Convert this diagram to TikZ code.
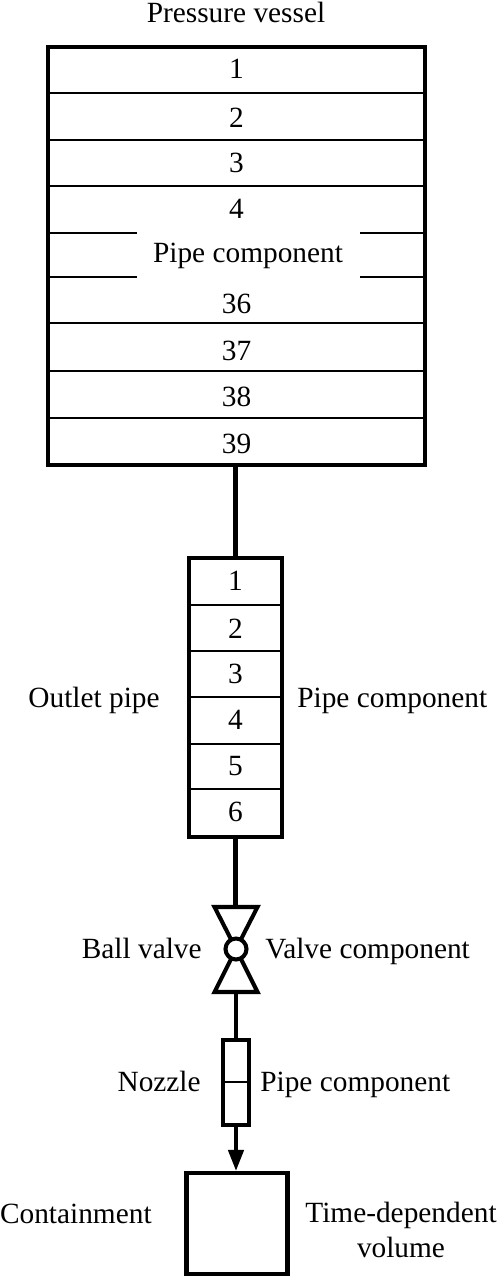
\documentclass[tikz,border=0pt]{standalone}
\usepackage{fontspec}
\setmainfont{Liberation Serif}
\usetikzlibrary{arrows.meta}
\tikzset{
    pipebox/.style={draw,line width=2.3pt,inner sep=0pt},
    pipeline/.style={line width=2.3pt},
    cellline/.style={line width=0.8pt},
    lbl/.style={inner sep=0pt,font=\fontsize{16.7pt}{20pt}\selectfont},
    ballvalve/.style={circle,draw,line width=2.3pt,fill=white,minimum size=0.42cm,inner sep=0pt},
}

\begin{document}
\begin{tikzpicture}[x=0.02cm,y=-0.02cm,>={Triangle[length=12pt,width=8.6pt]}]
    \useasboundingbox (0,0) rectangle (498,1277);

    \node[pipebox,minimum width=7.54cm,minimum height=8.36cm] (vessel) at (236.5,256) {};
    \node[pipebox,minimum width=1.86cm,minimum height=5.58cm] (outlet) at (235.5,697.5) {};
    \node[pipebox,minimum width=0.52cm,minimum height=1.70cm] (nozzle) at (236,1082.5) {};
    \node[pipebox,minimum width=2.02cm,minimum height=2.02cm] (containment) at (237,1223.5) {};

    \foreach \y in {93,140,186,323,371,418}{
        \draw[cellline] (vessel.west |- 0,\y) -- (vessel.east |- 0,\y);
    }
    \foreach \y in {233,277}{
        \draw[cellline] (vessel.west |- 0,\y) -- (136.5,\y);
        \draw[cellline] (360,\y) -- (vessel.east |- 0,\y);
    }
    \foreach \y in {605,651,697,744,789}{
        \draw[cellline] (outlet.west |- 0,\y) -- (outlet.east |- 0,\y);
    }
    \draw[cellline] (nozzle.west |- 0,1082) -- (nozzle.east |- 0,1082);

    \foreach \n/\y in {1/69,2/118,3/163,4/209,36/304,37/351,38/397,39/444}{
        \node[lbl] (vessel\n) at (236.5,\y) {\n};
    }
    \foreach \n/\y in {1/581,2/629,3/674,4/720,5/766,6/812}{
        \node[lbl] (outlet\n) at (235.5,\y) {\n};
    }

    % valve
    \coordinate (valvetop) at (235.5,907);
    \coordinate (valvebot) at (236,992);
    \coordinate (ball) at (236,949);
    \draw[pipeline,line join=miter] (214.5,907) -- (257.5,907) -- (ball) -- cycle;
    \draw[pipeline,line join=miter] (214.5,992) -- (257.5,992) -- (ball) -- cycle;
    \node[ballvalve] (ballnode) at (ball) {};

    \draw[pipeline] (vessel.south -| outlet.north) -- (outlet.north);
    \draw[pipeline] (outlet.south) -- (valvetop);
    \draw[pipeline] (valvebot) -- (nozzle.north);
    \draw[pipeline,->] (nozzle.south) -- (nozzle.south |- containment.north);

    \node[lbl,anchor=base] (vesselname) at (236,23) {Pressure vessel};
    \node[lbl,anchor=base] (vesseltype) at (248,262.5) {Pipe component};
    \node[lbl,anchor=base east] (outletname) at (160,707) {Outlet pipe};
    \node[lbl,anchor=base west] (outlettype) at (297,707) {Pipe component};
    \node[lbl,anchor=base east] (ballname) at (202,958) {Ball valve};
    \node[lbl,anchor=base west] (balltype) at (265,958) {Valve component};
    \node[lbl,anchor=base east] (nozzlename) at (201,1091) {Nozzle};
    \node[lbl,anchor=base west] (nozzletype) at (260,1091) {Pipe component};
    \node[lbl,anchor=base east] (containmentname) at (152,1223) {Containment};
    \node[lbl,anchor=base] (containmenttype) at (401,1222) {Time-dependent};
    \node[lbl,anchor=base] (containmentvol) at (401,1257) {volume};
\end{tikzpicture}
\end{document}
